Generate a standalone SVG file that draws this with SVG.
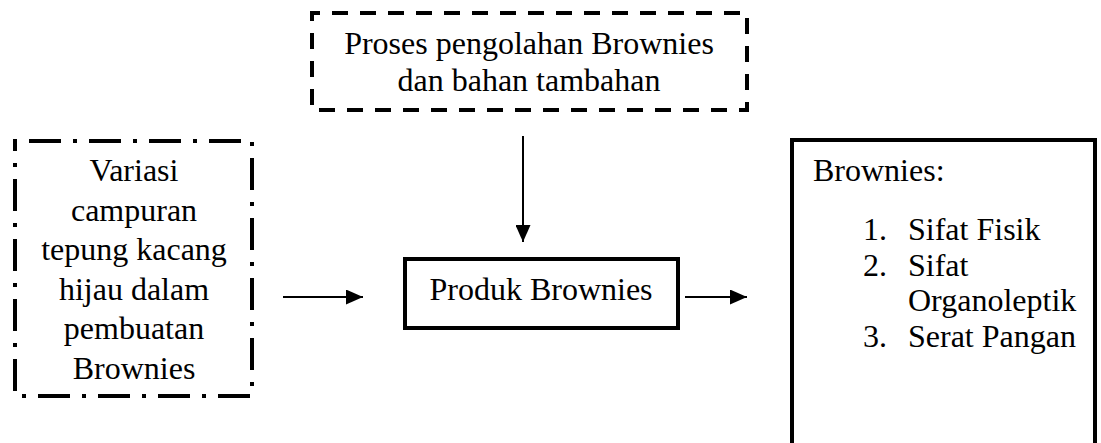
<svg xmlns="http://www.w3.org/2000/svg" width="1101" height="443" viewBox="0 0 1101 443">
<style>
.c{text-anchor:middle}
.box{fill:#fff;stroke:#000;stroke-width:4}
.dash{stroke-dasharray:16 12;stroke-dashoffset:8}
.dd{stroke-dasharray:32 12 4 12;stroke-dashoffset:46}
.ln{stroke:#000;stroke-width:2;fill:none}
</style>
<defs>
<marker id="ah" markerWidth="17" markerHeight="15" refX="17" refY="7.5" orient="auto" markerUnits="userSpaceOnUse">
<path d="M0,0 L17,7.5 L0,15 Z" fill="#000"/>
</marker>
</defs>
<rect width="1101" height="443" fill="#fff"/>
<g font-family="Liberation Serif, Times New Roman, serif" font-size="32" fill="#000">
<g id="proses">
<rect class="box dash" x="312" y="13" width="435" height="97"/>
<text class="c" x="529" y="54">Proses pengolahan Brownies</text>
<text class="c" x="529" y="91">dan bahan tambahan</text>
</g>
<g id="variasi">
<rect class="box dd" x="15" y="141" width="237" height="255"/>
<text class="c" x="134" y="181">Variasi</text>
<text class="c" x="134" y="221">campuran</text>
<text class="c" x="134" y="260">tepung kacang</text>
<text class="c" x="134" y="300">hijau dalam</text>
<text class="c" x="134" y="339">pembuatan</text>
<text class="c" x="134" y="379">Brownies</text>
</g>
<g id="produk">
<rect class="box" x="405" y="259" width="273" height="69"/>
<text class="c" x="541" y="300">Produk Brownies</text>
</g>
<g id="hasil">
<rect class="box" x="792" y="140" width="303" height="320"/>
<text x="813" y="181">Brownies:</text>
<text x="863" y="240">1.</text>
<text x="908" y="240">Sifat Fisik</text>
<text x="863" y="275.5">2.</text>
<text x="908" y="275.5">Sifat</text>
<text x="908" y="311">Organoleptik</text>
<text x="863" y="346.5">3.</text>
<text x="908" y="346.5">Serat Pangan</text>
</g>
</g>
<g id="connectors">
<line class="ln" x1="523" y1="136" x2="523" y2="242" marker-end="url(#ah)"/>
<line class="ln" x1="283" y1="297" x2="363" y2="297" marker-end="url(#ah)"/>
<line class="ln" x1="685" y1="297" x2="747" y2="297" marker-end="url(#ah)"/>
</g>
</svg>
